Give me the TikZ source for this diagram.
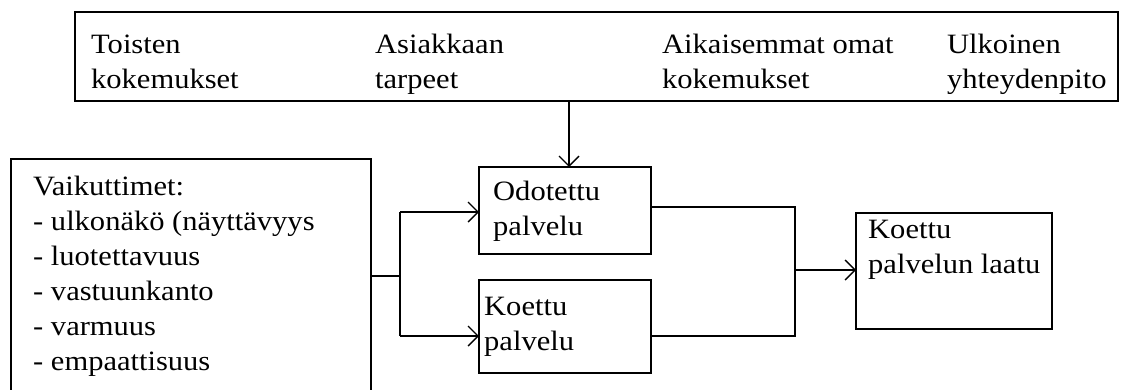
\documentclass[tikz,border=0pt]{standalone}
\usepackage{fontspec}
\setmainfont{Liberation Serif}[FakeStretch=1.09]
\usetikzlibrary{arrows.meta}
\begin{document}
\begin{tikzpicture}[x=1pt,y=-1pt,
  box/.style={draw, line width=1.6pt, inner sep=0pt, outer sep=0pt, anchor=north west},
  lbl/.style={anchor=base west, inner sep=0pt, font=\fontsize{28}{35}\selectfont},
  wire/.style={line width=1.6pt},
  arr/.style={line width=1.6pt, -{Straight Barb[length=10pt,width=20pt,line width=1.4pt]}}]
\clip (0,0) rectangle (1122,389);
\fill[white] (0,0) rectangle (1122,389);
% boxes
\node[box, minimum width=1043, minimum height=89] (top) at (75,12) {};
\node[box, minimum width=360, minimum height=250] (left) at (11,159) {};
\node[box, minimum width=172, minimum height=87] (odo) at (479,167) {};
\node[box, minimum width=172, minimum height=93] (koe) at (479,280) {};
\node[box, minimum width=196, minimum height=116] (res) at (856,213) {};
% top texts
\node[lbl] (t1a) at (91,53) {Toisten};
\node[lbl] (t1b) at (91,88) {kokemukset};
\node[lbl] (t2a) at (375,53) {Asiakkaan};
\node[lbl] (t2b) at (375,88) {tarpeet};
\node[lbl] (t3a) at (662,53) {Aikaisemmat omat};
\node[lbl] (t3b) at (662,88) {kokemukset};
\node[lbl] (t4a) at (947,53) {Ulkoinen};
\node[lbl] (t4b) at (947,88) {yhteydenpito};
% left texts
\node[lbl] (l1) at (33,195) {Vaikuttimet:};
\node[lbl] (l2) at (33,230) {- ulkonäkö (näyttävyys};
\node[lbl] (l3) at (33,265) {- luotettavuus};
\node[lbl] (l4) at (33,300) {- vastuunkanto};
\node[lbl] (l5) at (33,335) {- varmuus};
\node[lbl] (l6) at (33,370) {- empaattisuus};
% middle texts
\node[lbl] (o1) at (493,200) {Odotettu};
\node[lbl] (o2) at (493,235) {palvelu};
\node[lbl] (k1) at (484,315) {Koettu};
\node[lbl] (k2) at (484,350) {palvelu};
\node[lbl] (r1) at (868,238) {Koettu};
\node[lbl] (r2) at (868,273) {palvelun laatu};
% connectors
\coordinate (ax) at (569,0);
\draw[arr] (ax |- top.south) -- (ax |- odo.north);
\coordinate (b0) at (400,276);
\coordinate (b1) at (400,212);
\coordinate (b2) at (400,336);
\draw[wire] (left.east |- b0) -- (b0);
\draw[wire] (b1) -- (b2);
\draw[arr] (b1) -- (odo.west |- b1);
\draw[arr] (b2) -- (koe.west |- b2);
\coordinate (j1) at (795,207);
\coordinate (j2) at (795,336);
\coordinate (j0) at (795,270);
\draw[wire] (odo.east |- j1) -- (j1) -- (j2) -- (koe.east |- j2);
\draw[arr] (j0) -- (res.west |- j0);
\end{tikzpicture}
\end{document}
